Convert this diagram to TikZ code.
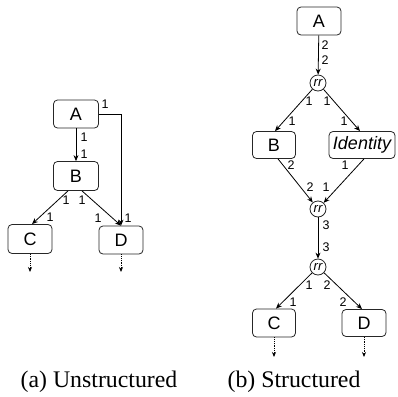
\documentclass[tikz,border=0pt]{standalone}
\usepackage{fontspec}
\setmainfont{Liberation Serif}
\setsansfont{Liberation Sans}
\usetikzlibrary{arrows.meta}
\begin{document}
\begin{tikzpicture}[x=1pt,y=-1pt,
  box/.style={draw=black!85,line width=0.8pt,rounded corners=4pt,inner sep=0pt,
    font=\sffamily\fontsize{18}{18}\selectfont},
  rrnode/.style={draw=black!85,line width=0.8pt,circle,minimum size=16pt,inner sep=0pt,
    font=\sffamily\itshape\fontsize{13}{13}\selectfont},
  arr/.style={line width=0.8pt,-{Stealth[length=6pt,width=5pt]}},
  darr/.style={line width=0.8pt,densely dotted,-{Stealth[length=5pt,width=4pt]}},
  lbl/.style={inner sep=0pt,font=\sffamily\fontsize{12.5}{12.5}\selectfont},
  captext/.style={inner sep=0pt,font=\fontsize{23.8}{24}\selectfont}]
\useasboundingbox (0,0) rectangle (397,397);
% ---------- (a) Unstructured ----------
\node[box,minimum width=45pt,minimum height=28pt] (LA) at (76,114) {A};
\node[box,minimum width=45pt,minimum height=29pt] (LB) at (76,176) {B};
\node[box,minimum width=44pt,minimum height=29pt] (LC) at (30,239) {C};
\node[box,minimum width=44pt,minimum height=28pt] (LD) at (121,240) {D};
\coordinate (LAD) at (LD.north |- LA.east);
\coordinate (LCe) at (30,272);
\coordinate (LDe) at (121,272);
\draw[arr] (LA) -- (LB);
\draw[arr] (LA.east) -- (LAD) -- (LD.north);
\draw[arr] ([xshift=-8pt]LB.south) -- ([xshift=2pt]LC.north);
\draw[arr] ([xshift=6pt]LB.south) -- (LD.north);
\draw[darr] (LC.south) -- (LCe);
\draw[darr] (LD.south) -- (LDe);
\node[lbl] (la1) at (105,104) {1};
\node[lbl] (la2) at (84,137) {1};
\node[lbl] (la3) at (84,154) {1};
\node[lbl] (la4) at (66,200) {1};
\node[lbl] (la5) at (50,217) {1};
\node[lbl] (la6) at (82,200) {1};
\node[lbl] (la7) at (98,218) {1};
\node[lbl] (la8) at (128,218) {1};
% ---------- (b) Structured ----------
\node[box,minimum width=44pt,minimum height=28pt] (RA) at (319,21) {A};
\node[rrnode] (rr1) at (318,83) {rr};
\node[box,minimum width=43pt,minimum height=27pt] (RB) at (274,145) {B};
\node[box,minimum width=66pt,minimum height=27pt] (RI) at (362,145) {\itshape Identity};
\node[rrnode] (rr2) at (318,209) {rr};
\node[rrnode] (rr3) at (318,267) {rr};
\node[box,minimum width=43pt,minimum height=28pt] (RC) at (274,323) {C};
\node[box,minimum width=44pt,minimum height=27pt] (RD) at (364,323) {D};
\coordinate (RCe) at (274,357);
\coordinate (RDe) at (364,357);
\draw[arr] (RA) -- (rr1);
\draw[arr] (rr1) -- ([xshift=1pt]RB.north);
\draw[arr] (rr1) -- ([xshift=-2pt]RI.north);
\draw[arr] ([xshift=4pt]RB.south) -- (rr2);
\draw[arr] ([xshift=2pt]RI.south) -- (rr2);
\draw[arr] (rr2) -- (rr3);
\draw[arr] (rr3) -- ([xshift=2pt]RC.north);
\draw[arr] (rr3) -- ([xshift=-2pt]RD.north);
\draw[darr] (RC.south) -- (RCe);
\draw[darr] (RD.south) -- (RDe);
\node[lbl] (lb1) at (325,45) {2};
\node[lbl] (lb2) at (325,60) {2};
\node[lbl] (lb3) at (309,101) {1};
\node[lbl] (lb4) at (327,101) {1};
\node[lbl] (lb5) at (292,121) {1};
\node[lbl] (lb6) at (344,121) {1};
\node[lbl] (lb7) at (291,165) {2};
\node[lbl] (lb8) at (345,165) {1};
\node[lbl] (lb9) at (310,187) {2};
\node[lbl] (lb10) at (326,187) {1};
\node[lbl] (lb11) at (326,225) {3};
\node[lbl] (lb12) at (326,247) {3};
\node[lbl] (lb13) at (309,285) {1};
\node[lbl] (lb14) at (327,285) {2};
\node[lbl] (lb15) at (293,302) {1};
\node[lbl] (lb16) at (343,302) {2};
% ---------- captions ----------
\node[captext] (capa) at (99,382) {(a) Unstructured};
\node[captext] (capb) at (294,382) {(b) Structured};
\end{tikzpicture}
\end{document}
